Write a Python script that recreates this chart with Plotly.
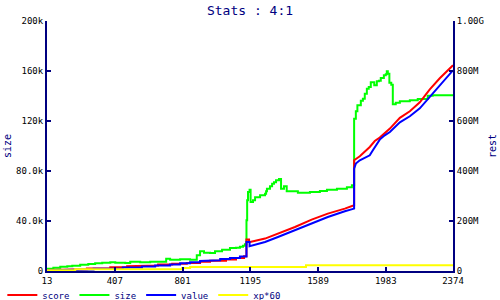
import plotly.graph_objects as go

# ---------------- data ----------------
size_x = [13, 50, 90, 131, 160, 206, 253, 293, 334, 381, 410, 468, 497, 555, 613, 671, 706, 729, 787, 845,
          884, 903, 926, 961, 990, 1031, 1077, 1112, 1135, 1153, 1164, 1173, 1177, 1182, 1191, 1197, 1211, 1223, 1252, 1281,
          1287, 1292, 1310, 1322, 1333, 1345, 1362, 1374, 1391, 1407, 1472, 1542, 1600, 1641, 1699, 1757, 1786, 1799, 1809, 1818,
          1838, 1850, 1861, 1873, 1884, 1896, 1916, 1931, 1943, 1954, 1972, 1983, 1989, 1995, 2004, 2015, 2024, 2041, 2065, 2123,
          2169, 2227, 2256, 2374]
size_k = [1.8, 2.7, 3.5, 3.8, 4.2, 5.0, 5.6, 6.2, 6.6, 7.0, 6.6, 6.4, 7.4, 7.0, 7.5, 7.4, 9.8, 9.1, 9.4, 9.1,
          12.6, 15.8, 14.7, 14.4, 15.8, 17.1, 18.4, 18.7, 19.5, 20.3, 21.4, 40.6, 56.6, 63.2, 65.1, 55.2, 56.6, 59.0, 60.6, 61.9,
          63.8, 65.9, 67.8, 69.9, 71.0, 72.6, 73.6, 65.9, 67.8, 63.8, 62.7, 63.2, 64.0, 65.1, 65.9, 67.0, 68.6, 121.8, 127.8, 132.6,
          136.2, 137.8, 141.9, 145.9, 147.2, 151.0, 148.6, 151.8, 152.3, 154.4, 156.6, 157.4, 159.8, 157.9, 150.6, 149.1, 133.4, 134.6, 135.8, 136.6,
          137.6, 140.2, 140.6, 141.4]

score_x = [13, 79, 79, 245, 245, 381, 381, 479, 479, 578, 578, 659, 659, 741, 741, 826, 826, 903, 903, 961,
           961, 1054, 1054, 1112, 1112, 1159, 1159, 1173, 1173, 1188, 1188, 1194, 1281, 1356, 1455, 1552, 1646, 1745, 1792, 1799,
           1799, 1832, 1890, 1919, 1948, 2007, 2065, 2123, 2181, 2239, 2297, 2355, 2374]
score_M = [4, 4, 6.8, 6.8, 9.6, 9.6, 14.8, 14.8, 18.8, 18.8, 21.6, 21.6, 25.6, 25.6, 28.8, 28.8, 32, 32, 36.8, 36.8,
           40.8, 40.8, 45.6, 45.6, 52, 52, 58.8, 58.8, 125.6, 125.6, 116, 116, 129.6, 149.6, 176, 205.6, 229.6, 249.6, 262.8, 262.8,
           442.8, 458.8, 496, 520, 533.6, 569.6, 612.8, 638.8, 674.8, 726.8, 770.8, 810.8, 822.8]

value_x = [13, 119, 119, 284, 284, 454, 454, 565, 565, 642, 642, 729, 729, 787, 787, 845, 845, 903, 903, 961,
           961, 1020, 1020, 1077, 1077, 1135, 1135, 1173, 1173, 1191, 1191, 1281, 1356, 1455, 1552, 1646, 1745, 1792, 1799, 1799,
           1809, 1832, 1861, 1890, 1908, 1919, 1948, 1977, 2007, 2065, 2123, 2181, 2227, 2239, 2297, 2355, 2374]
value_M = [2.8, 2.8, 5.6, 5.6, 8.8, 8.8, 13.6, 13.6, 17.6, 17.6, 21.6, 21.6, 25.6, 25.6, 30.8, 30.8, 34.8, 34.8, 40, 40,
           42.8, 42.8, 48, 48, 52, 52, 57.6, 57.6, 116, 116, 98.8, 116, 136, 162.8, 189.6, 216, 238.8, 249.6, 249.6, 409.6,
           429.6, 442.8, 453.6, 462.8, 482.8, 496, 525.6, 542.8, 556, 594.8, 618.8, 650.8, 686.8, 698.8, 742.8, 786.8, 802.8]

xp_x = [13, 177, 799, 845, 1519, 2374]
xp_M = [2.8, 6.8, 12, 16, 22.8, 22.8]

x_ticks = [13, 407, 801, 1195, 1589, 1983, 2374]
left_ticks = [0, 40000, 80000, 120000, 160000, 200000]
left_labels = ["0", "40.0k", "80.0k", "120k", "160k", "200k"]
right_ticks = [0, 2e8, 4e8, 6e8, 8e8, 1e9]
right_labels = ["0", "200M", "400M", "600M", "800M", "1.00G"]

# ---------------- figure ----------------
NAVY = "#000080"
MONO = "DejaVu Sans Mono"

fig = go.Figure()
fig.add_trace(go.Scatter(x=score_x, y=[v * 1e6 for v in score_M], name="score", mode="lines",
                         line=dict(color="#ff0000", width=2), yaxis="y2"))
fig.add_trace(go.Scatter(x=size_x, y=[v * 1e3 for v in size_k], name="size", mode="lines",
                         line=dict(color="#00ff00", width=2, shape="hv"), yaxis="y"))
fig.add_trace(go.Scatter(x=value_x, y=[v * 1e6 for v in value_M], name="value", mode="lines",
                         line=dict(color="#0000ff", width=2), yaxis="y2"))
fig.add_trace(go.Scatter(x=xp_x, y=[v * 1e6 for v in xp_M], name="xp*60", mode="lines",
                         line=dict(color="#ffff00", width=2, shape="hv"), yaxis="y2"))

axis_common = dict(showgrid=False, zeroline=False, showline=True, linecolor=NAVY, linewidth=2,
                   ticks="inside", ticklen=4, tickwidth=2, tickcolor=NAVY, automargin=False,
                   tickfont=dict(family=MONO, size=9, color="black"))

fig.update_layout(
    width=500, height=300,
    margin=dict(l=47, r=47, t=21, b=29, pad=0, autoexpand=False),
    paper_bgcolor="white", plot_bgcolor="white",
    title=dict(text="Stats : 4:1", x=0.5, xanchor="center", y=0.965, yanchor="middle",
               font=dict(family=MONO, size=13, color=NAVY)),
    xaxis=dict(range=[13, 2374], tickmode="array", tickvals=x_ticks,
               ticktext=[str(v) for v in x_ticks], **axis_common),
    yaxis=dict(range=[0, 200000], tickmode="array", tickvals=left_ticks, ticktext=left_labels,
               title=dict(text="size", font=dict(family=MONO, size=10, color=NAVY), standoff=3),
               **axis_common),
    yaxis2=dict(range=[0, 1e9], tickmode="array", tickvals=right_ticks, ticktext=right_labels,
                overlaying="y", side="right",
                title=dict(text="rest", font=dict(family=MONO, size=10, color=NAVY), standoff=6),
                **axis_common),
    showlegend=True,
    legend=dict(orientation="h", x=-0.11, xanchor="left", y=-0.096, yanchor="middle",
                font=dict(family=MONO, size=9, color=NAVY), bgcolor="rgba(0,0,0,0)",
                itemwidth=30, tracegroupgap=0),
)

fig.write_html("out.html")
